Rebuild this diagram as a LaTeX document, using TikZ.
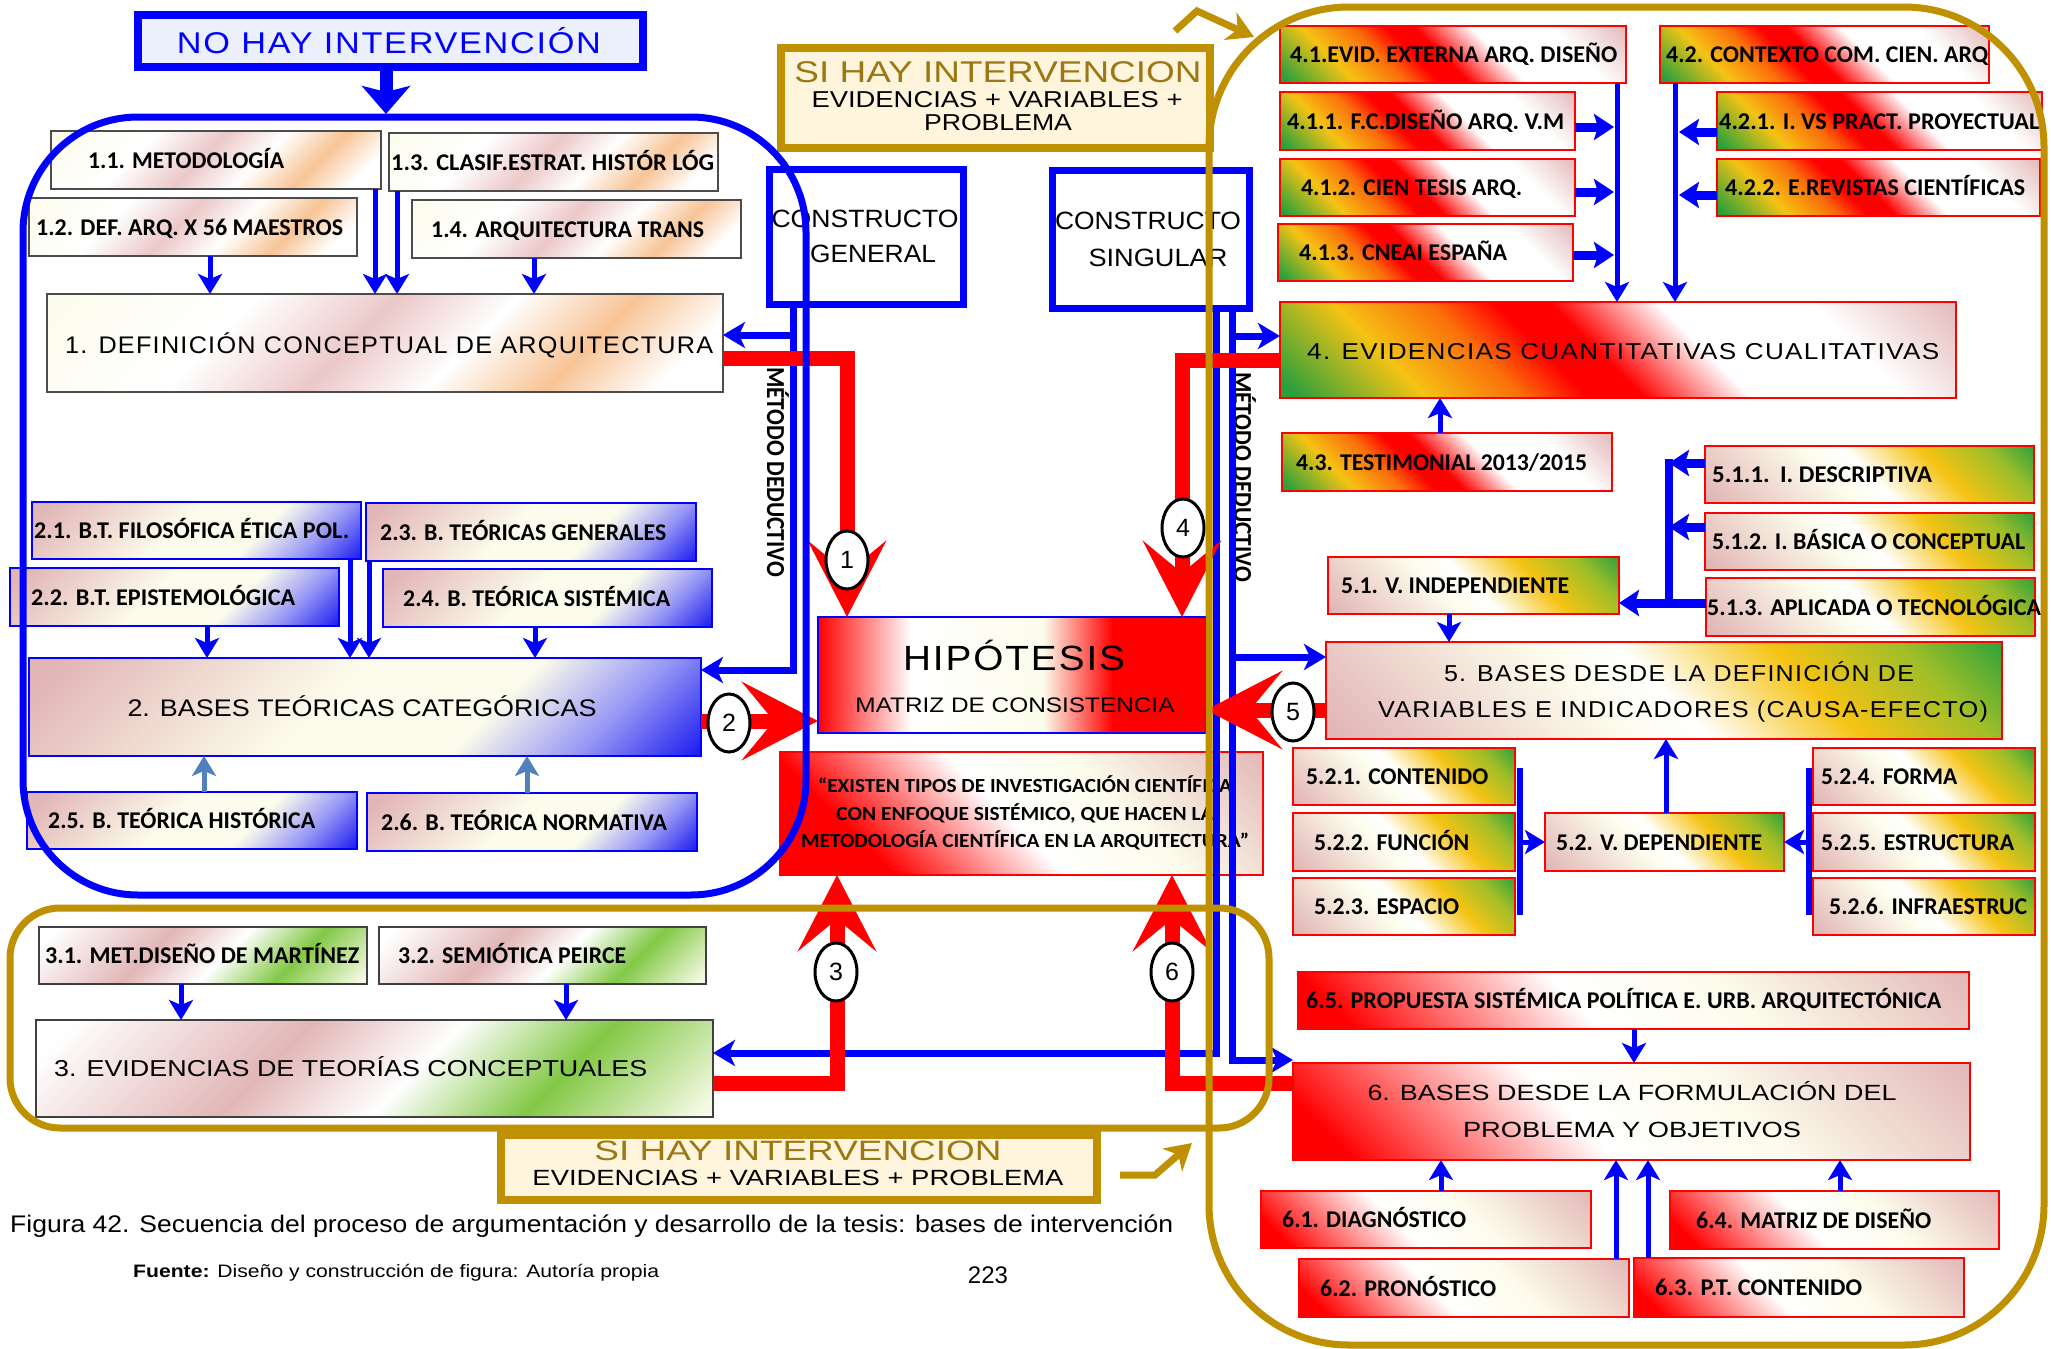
\documentclass[tikz,border=0pt]{standalone}
\usepackage{fontspec}
\usepackage{graphicx}
\setmainfont{Carlito}
\newfontfamily\arialf{Liberation Sans}
\newfontfamily\ltw[LetterSpace=5]{Liberation Sans}
\usetikzlibrary{arrows.meta,shapes.geometric}

\definecolor{bl}{RGB}{0,0,255}
\definecolor{rd}{RGB}{255,0,0}
\definecolor{gold}{RGB}{191,144,0}
\definecolor{goldtxt}{RGB}{155,120,20}
\definecolor{cream}{RGB}{255,244,220}
\definecolor{lav}{RGB}{236,239,252}
\definecolor{steel}{RGB}{79,129,189}
\definecolor{pk}{RGB}{226,182,182}
\definecolor{pkl}{RGB}{236,200,200}
\definecolor{peach}{RGB}{248,196,150}
\definecolor{crm}{RGB}{252,252,236}
\definecolor{bshade}{RGB}{20,20,240}
\definecolor{lbsh}{RGB}{150,150,245}
\definecolor{grn}{RGB}{40,160,60}
\definecolor{lgrn}{RGB}{130,200,70}
\definecolor{ylw}{RGB}{245,195,20}
\definecolor{orn}{RGB}{250,110,10}
\definecolor{ygrn}{RGB}{160,190,40}
\definecolor{lcream}{RGB}{246,250,228}

\pgfdeclarehorizontalshading{shA}{100bp}{color(0bp)=(crm); color(15bp)=(crm); color(34bp)=(white); color(47bp)=(pkl); color(58bp)=(white); color(69bp)=(peach); color(79bp)=(white); color(100bp)=(white)}
\pgfdeclarehorizontalshading{shB}{100bp}{color(0bp)=(pk); color(18bp)=(pk); color(46bp)=(crm); color(62bp)=(crm); color(74bp)=(lbsh); color(86bp)=(bshade); color(100bp)=(bshade)}
\pgfdeclarehorizontalshading{shC}{100bp}{color(0bp)=(white); color(18bp)=(white); color(40bp)=(pk); color(54bp)=(white); color(68bp)=(lgrn); color(84bp)=(lcream); color(100bp)=(lcream)}
\pgfdeclarehorizontalshading{shD}{100bp}{color(0bp)=(grn); color(16bp)=(grn); color(28bp)=(ylw); color(37bp)=(orn); color(43bp)=(rd); color(48bp)=(rd); color(58bp)=(white); color(72bp)=(white); color(86bp)=(pk); color(100bp)=(pk)}
\pgfdeclarehorizontalshading{shE}{100bp}{color(0bp)=(pk); color(16bp)=(pk); color(42bp)=(crm); color(50bp)=(white); color(64bp)=(ylw); color(76bp)=(ygrn); color(86bp)=(grn); color(100bp)=(grn)}
\pgfdeclarehorizontalshading{shF}{100bp}{color(0bp)=(rd); color(20bp)=(rd); color(44bp)=(white); color(60bp)=(crm); color(86bp)=(pk); color(100bp)=(pk)}
\pgfdeclarehorizontalshading{shQ}{100bp}{color(0bp)=(rd); color(28bp)=(rd); color(48bp)=(white); color(62bp)=(crm); color(86bp)=(pk); color(100bp)=(pk)}
\pgfdeclarehorizontalshading{shH}{100bp}{color(0bp)=(rd); color(25bp)=(rd); color(37bp)=(white); color(54bp)=(crm); color(63bp)=(rd); color(100bp)=(rd)}

\newcommand{\fw}[2]{\resizebox{#1}{\height}{#2}}
% style, name, x1, y1, x2, y2, textx, textwidth, text
\newcommand{\bx}[9]{%
  \node[#1, minimum width={(#5-#3)*1pt}, minimum height={(#6-#4)*1pt}] (#2) at (#3,#4) {};
  \node[lbl] (#2t) at ({#7},{(#4+#6)/2+8}) {\fw{#8pt}{#9}};
}

\tikzset{
  box/.style={anchor=north west, outer sep=0pt, inner sep=0pt},
  g1/.style={box, draw=black!70, line width=1.5pt, shading=shA, shading angle=-45},
  g2/.style={box, draw=bl, line width=2pt, shading=shB, shading angle=-45},
  g3/.style={box, draw=black!75, line width=2pt, shading=shC, shading angle=-45},
  g4/.style={box, draw=rd, line width=2.5pt, shading=shD, shading angle=45},
  g5/.style={box, draw=rd, line width=2.5pt, shading=shE, shading angle=45},
  g6/.style={box, draw=rd, line width=2.5pt, shading=shF, shading angle=45},
  lbl/.style={anchor=base west, inner sep=0pt, font=\fontsize{24}{28}\selectfont\bfseries},
  mt/.style={inner sep=0pt},
  barr/.style={draw=bl, line width=5pt, -{Stealth[length=20pt,width=24pt,inset=5pt]}},
  sarr/.style={barr, draw=steel},
  barrL/.style={draw=bl, line width=7pt, -{Stealth[length=22pt,width=26pt,inset=6pt]}},
  tarr/.style={draw=bl, line width=9pt, -{Stealth[length=20pt,width=26pt,inset=4pt]}},
  bline/.style={draw=bl, line width=6pt},
  rarr/.style={draw=rd, line width=15pt, -{Stealth[length=76pt,width=78pt,inset=32pt]}},
  gframe/.style={draw=gold, line width=7pt},
  garr/.style={draw=gold, line width=7pt, -{Stealth[length=26pt,width=30pt,inset=8pt]}},
  circ/.style={ellipse, draw=black, line width=3pt, fill=white, minimum width=42pt, minimum height=58pt, inner sep=0pt, font=\arialf\fontsize{25}{30}\selectfont},
}

\begin{document}
\begin{tikzpicture}[x=1pt,y=-1pt]
\fill[white] (0,0) rectangle (2051,1349);
\useasboundingbox (0,0) rectangle (2051,1349);

% ---------- group 1
\bx{g1}{n11}{51}{131}{381}{189}{88}{196}{1.1. METODOLOGÍA}
\bx{g1}{n13}{389}{133}{718}{191}{391}{323}{1.3. CLASIF.ESTRAT. HISTÓR LÓG}
\bx{g1}{n12}{29}{198}{357}{256}{36}{307}{1.2. DEF. ARQ. X 56 MAESTROS}
\bx{g1}{n14}{412}{200}{741}{258}{431}{273}{1.4. ARQUITECTURA TRANS}
\node[g1, minimum width=676pt, minimum height=98pt] (n1) at (47,294) {};
\node[mt, anchor=base west, font=\ltw\fontsize{24}{30}\selectfont] (n1t) at (65,353) {\fw{648pt}{1. DEFINICIÓN CONCEPTUAL DE ARQUITECTURA}};

% ---------- group 2
\bx{g2}{n21}{32}{502}{361}{559}{34}{315}{2.1. B.T. FILOSÓFICA ÉTICA POL.}
\bx{g2}{n23}{366}{503}{696}{561}{380}{286}{2.3. B. TEÓRICAS GENERALES}
\bx{g2}{n22}{10}{568}{339}{626}{31}{264}{2.2. B.T. EPISTEMOLÓGICA}
\bx{g2}{n24}{383}{569}{712}{627}{403}{267}{2.4. B. TEÓRICA SISTÉMICA}
\bx{g2}{n25}{27}{792}{357}{849}{48}{267}{2.5. B. TEÓRICA HISTÓRICA}
\bx{g2}{n26}{367}{793}{697}{851}{381}{286}{2.6. B. TEÓRICA NORMATIVA}
\node[g2, minimum width=672pt, minimum height=98pt] (n2) at (29,658) {};
\node[mt, anchor=base, font=\arialf\fontsize{24}{30}\selectfont] (n2t) at (362,716) {\fw{469pt}{2. BASES TEÓRICAS CATEGÓRICAS}};

% ---------- group 3
\bx{g3}{n31}{39}{927}{367}{984}{45}{314}{3.1. MET.DISEÑO DE MARTÍNEZ}
\bx{g3}{n32}{379}{927}{706}{984}{398}{228}{3.2. SEMIÓTICA PEIRCE}
\node[g3, minimum width=677pt, minimum height=97pt] (n3) at (36,1020) {};
\node[mt, anchor=base west, font=\arialf\fontsize{23}{30}\selectfont] (n3t) at (54,1076) {\fw{593pt}{3. EVIDENCIAS DE TEORÍAS CONCEPTUALES}};

% ---------- group 4
\bx{g4}{n41}{1280}{26}{1626}{83}{1290}{327}{4.1.EVID. EXTERNA ARQ. DISEÑO}
\bx{g4}{n42}{1660}{26}{1989}{83}{1666}{322}{4.2. CONTEXTO COM. CIEN. ARQ}
\bx{g4}{n411}{1280}{92}{1575}{150}{1287}{277}{4.1.1. F.C.DISEÑO ARQ. V.M}
\bx{g4}{n412}{1280}{159}{1575}{216}{1301}{221}{4.1.2. CIEN TESIS ARQ.}
\bx{g4}{n413}{1278}{224}{1573}{281}{1299}{208}{4.1.3. CNEAI ESPAÑA}
\bx{g4}{n421}{1717}{92}{2042}{150}{1719}{320}{4.2.1. I. VS PRACT. PROYECTUAL}
\bx{g4}{n422}{1717}{159}{2040}{216}{1725}{300}{4.2.2. E.REVISTAS CIENTÍFICAS}
\node[g4, minimum width=676pt, minimum height=96pt] (n4) at (1280,302) {};
\node[mt, anchor=base west, font=\ltw\fontsize{23}{30}\selectfont] (n4t) at (1307,359) {\fw{632pt}{4. EVIDENCIAS CUANTITATIVAS CUALITATIVAS}};
\bx{g4}{n43}{1282}{433}{1612}{491}{1296}{291}{4.3. TESTIMONIAL 2013/2015}

% ---------- group 5
\bx{g5}{n511}{1705}{446}{2034}{503}{1712}{220}{5.1.1.\hspace{10pt}I. DESCRIPTIVA}
\bx{g5}{n512}{1705}{513}{2034}{570}{1712}{313}{5.1.2. I. BÁSICA O CONCEPTUAL}
\bx{g5}{n513}{1706}{578}{2035}{636}{1707}{334}{5.1.3. APLICADA O TECNOLÓGICA}
\bx{g5}{n51}{1328}{557}{1619}{614}{1341}{228}{5.1. V. INDEPENDIENTE}
\node[g5, minimum width=676pt, minimum height=97pt] (n5) at (1326,642) {};
\node[mt, anchor=base, font=\ltw\fontsize{23}{30}\selectfont] (n5a) at (1679,681) {\fw{470pt}{5. BASES DESDE LA DEFINICIÓN DE}};
\node[mt, anchor=base, font=\ltw\fontsize{23}{30}\selectfont] (n5b) at (1683,717) {\fw{610pt}{VARIABLES E INDICADORES (CAUSA-EFECTO)}};
\bx{g5}{n521}{1293}{748}{1515}{805}{1306}{182}{5.2.1. CONTENIDO}
\bx{g5}{n522}{1293}{813}{1515}{871}{1314}{155}{5.2.2. FUNCIÓN}
\bx{g5}{n523}{1293}{878}{1515}{935}{1314}{145}{5.2.3. ESPACIO}
\bx{g5}{n52}{1545}{813}{1784}{871}{1556}{206}{5.2. V. DEPENDIENTE}
\bx{g5}{n524}{1813}{748}{2035}{805}{1821}{136}{5.2.4. FORMA}
\bx{g5}{n525}{1813}{813}{2035}{871}{1821}{193}{5.2.5. ESTRUCTURA}
\bx{g5}{n526}{1813}{878}{2035}{935}{1829}{198}{5.2.6. INFRAESTRUC}

% ---------- group 6
\bx{g6}{n65}{1298}{972}{1969}{1029}{1306}{635}{6.5. PROPUESTA SISTÉMICA POLÍTICA E. URB. ARQUITECTÓNICA}
\node[g6, minimum width=677pt, minimum height=97pt] (n6) at (1293,1063) {};
\node[mt, anchor=base, font=\arialf\fontsize{22}{30}\selectfont] (n6a) at (1632,1100) {\fw{529pt}{6. BASES DESDE LA FORMULACIÓN DEL}};
\node[mt, anchor=base, font=\arialf\fontsize{22}{30}\selectfont] (n6b) at (1632,1137) {\fw{338pt}{PROBLEMA Y OBJETIVOS}};
\bx{g6}{n61}{1261}{1191}{1591}{1248}{1282}{184}{6.1. DIAGNÓSTICO}
\bx{g6}{n64}{1670}{1191}{1999}{1249}{1696}{235}{6.4. MATRIZ DE DISEÑO}
\bx{g6}{n62}{1299}{1259}{1629}{1317}{1320}{176}{6.2. PRONÓSTICO}
\bx{g6}{n63}{1634}{1258}{1964}{1317}{1655}{207}{6.3. P.T. CONTENIDO}

% ---------- centre
\node[box, draw=bl, line width=2.5pt, shading=shH, shading angle=0, minimum width=388pt, minimum height=116pt] (hyp) at (818,617) {};
\node[anchor=base, inner sep=0pt, font=\ltw\fontsize{35}{40}\selectfont] (hypt) at (1014,670) {\fw{222pt}{HIPÓTESIS}};
\node[anchor=base, inner sep=0pt, font=\arialf\fontsize{21}{28}\selectfont] (hypm) at (1015,712) {\fw{319pt}{MATRIZ DE CONSISTENCIA}};

\node[box, draw=rd, line width=2pt, shading=shQ, shading angle=45, minimum width=483pt, minimum height=123pt] (quote) at (780,752) {};
\node[anchor=base, inner sep=0pt, font=\fontsize{20}{24}\selectfont\bfseries] (q1) at (1025,792) {\fw{414pt}{“EXISTEN TIPOS DE INVESTIGACIÓN CIENTÍFICA}};
\node[anchor=base, inner sep=0pt, font=\fontsize{20}{24}\selectfont\bfseries] (q2) at (1025,820) {\fw{377pt}{CON ENFOQUE SISTÉMICO, QUE HACEN LA}};
\node[anchor=base, inner sep=0pt, font=\fontsize{20}{24}\selectfont\bfseries] (q3) at (1025,847) {\fw{448pt}{METODOLOGÍA CIENTÍFICA EN LA ARQUITECTURA”}};

% constructo boxes
\node[box, draw=bl, line width=7pt, minimum width=194pt, minimum height=135pt] (cg) at (769.5,169.5) {};
\node[anchor=base, inner sep=0pt, font=\arialf\fontsize{25}{30}\selectfont] (cg1) at (865,227) {\fw{187pt}{CONSTRUCTO}};
\node[anchor=base, inner sep=0pt, font=\arialf\fontsize{25}{30}\selectfont] (cg2) at (873,262) {\fw{126pt}{GENERAL}};
\node[box, draw=bl, line width=7pt, minimum width=197pt, minimum height=138pt] (cs) at (1052.5,170.5) {};
\node[anchor=base, inner sep=0pt, font=\arialf\fontsize{25}{30}\selectfont] (cs1) at (1148,229) {\fw{186pt}{CONSTRUCTO}};
\node[anchor=base, inner sep=0pt, font=\arialf\fontsize{25}{30}\selectfont] (cs2) at (1158,266) {\fw{139pt}{SINGULAR}};

% titles
\node[box, draw=bl, line width=8pt, fill=lav, minimum width=505pt, minimum height=52pt] (nohay) at (138,15) {};
\node[anchor=base, inner sep=0pt, text=bl, font=\ltw\fontsize{30}{36}\selectfont] (nohayt) at (389,53) {\fw{424pt}{NO HAY INTERVENCIÓN}};
\node[box, draw=gold, line width=8pt, fill=cream, minimum width=429pt, minimum height=100pt] (sitop) at (781,48) {};
\node[anchor=base, inner sep=0pt, text=goldtxt, font=\arialf\fontsize{30}{36}\selectfont] (sit1) at (998,82) {\fw{407pt}{SI HAY INTERVENCION}};
\node[anchor=base, inner sep=0pt, font=\arialf\fontsize{23}{30}\selectfont] (sit2) at (997,107) {\fw{371pt}{EVIDENCIAS + VARIABLES +}};
\node[anchor=base, inner sep=0pt, font=\arialf\fontsize{23}{30}\selectfont] (sit3) at (998,130) {\fw{148pt}{PROBLEMA}};
\node[box, draw=gold, line width=8pt, fill=cream, minimum width=596pt, minimum height=65pt] (sibot) at (501,1135) {};
\node[anchor=base, inner sep=0pt, text=goldtxt, font=\arialf\fontsize{28}{34}\selectfont] (sib1) at (798,1160) {\fw{407pt}{SI HAY INTERVENCION}};
\node[anchor=base, inner sep=0pt, font=\arialf\fontsize{22}{30}\selectfont] (sib2) at (798,1185) {\fw{531pt}{EVIDENCIAS + VARIABLES + PROBLEMA}};

% método deductivo
\node[rotate=-90, inner sep=0pt, font=\bfseries\fontsize{26}{28}\selectfont] (md1) at (778,472) {\fw{210pt}{MÉTODO DEDUCTIVO}};
\node[rotate=-90, inner sep=0pt, font=\bfseries\fontsize{26}{28}\selectfont] (md2) at (1245,477) {\fw{210pt}{MÉTODO DEDUCTIVO}};

% caption
\node[anchor=base west, inner sep=0pt, font=\arialf\fontsize{24}{28}\selectfont] (cap) at (10,1232) {\fw{1163pt}{Figura 42. Secuencia del proceso de argumentación y desarrollo de la tesis: bases de intervención}};
\node[anchor=base west, inner sep=0pt, font=\arialf\fontsize{18}{22}\selectfont] (fte) at (133,1277) {\fw{526pt}{\textbf{Fuente:} Diseño y construcción de figura: Autoría propia}};
\node[anchor=base, inner sep=0pt, font=\arialf\fontsize{24}{28}\selectfont] (pg) at (988,1283) {223};

% ---------- blue connectors
\coordinate (ftop) at (386,114);
\draw[draw=bl, line width=13pt, -{Stealth[length=28pt,width=48pt,inset=6pt]}] (nohay.south -| ftop) -- (ftop);

\draw[barr] (n12.south -| 210,0) -- (n1.north -| 210,0);
\draw[barr] (n11.south -| 375,0) -- (n1.north -| 375,0);
\draw[barr] (n13.south -| 397,0) -- (n1.north -| 397,0);
\draw[barr] (n14.south -| 534,0) -- (n1.north -| 534,0);

\draw[barr] (n22.south -| 207,0) -- (n2.north -| 207,0);
\draw[barr] (n21.south -| 350,0) -- (n2.north -| 350,0);
\draw[barr] (n23.south -| 369,0) -- (n2.north -| 369,0);
\draw[barr] (n24.south -| 535,0) -- (n2.north -| 535,0);
\draw[sarr] (n25.north -| 204,0) -- (n2.south -| 204,0);
\draw[sarr] (n26.north -| 527,0) -- (n2.south -| 527,0);

\draw[barr] (n31.south -| 181,0) -- (n3.north -| 181,0);
\draw[barr] (n32.south -| 566,0) -- (n3.north -| 566,0);

\draw[barr] (n41.south -| 1617,0) -- (n4.north -| 1617,0);
\draw[barr] (n42.south -| 1675,0) -- (n4.north -| 1675,0);
\coordinate (v41) at (1614,0);
\coordinate (v42) at (1679,0);
\draw[tarr] (n411.east |- 0,127) -- (v41 |- 0,127);
\draw[tarr] (n412.east |- 0,192) -- (v41 |- 0,192);
\draw[tarr] (n413.east |- 0,255) -- (v41 |- 0,255);
\draw[tarr] (n421.west |- 0,132) -- (v42 |- 0,132);
\draw[tarr] (n422.west |- 0,195) -- (v42 |- 0,195);
\draw[barr] (n43.north -| 1440,0) -- (n4.south -| 1440,0);

\coordinate (v51) at (1669,0);
\draw[draw=bl, line width=8pt] (v51 |- 0,459) -- (v51 |- 0,607);
\draw[tarr] (n511.west |- 0,463) -- (v51 |- 0,463);
\draw[tarr] (n512.west |- 0,527) -- (v51 |- 0,527);
\draw[tarr] (n513.west |- 0,603) -- (n51.east |- 0,603);
\draw[barr] (n51.south -| 1449,0) -- (n5.north -| 1449,0);
\draw[barr] (n52.north -| 1666,0) -- (n5.south -| 1666,0);
\coordinate (v52) at (1520,0);
\coordinate (v53) at (1809,0);
\draw[bline] (v52 |- 0,768) -- (v52 |- 0,915);
\draw[bline] (v53 |- 0,768) -- (v53 |- 0,915);
\draw[barr] (v52 |- n52.west) -- (n52.west);
\draw[barr] (v53 |- n52.east) -- (n52.east);

\draw[barr] (n65.south -| 1634,0) -- (n6.north -| 1634,0);
\draw[barr] (n61.north -| 1441,0) -- (n6.south -| 1441,0);
\draw[barr] (n62.north -| 1616,0) -- (n6.south -| 1616,0);
\draw[barr] (n63.north -| 1648,0) -- (n6.south -| 1648,0);
\draw[barr] (n64.north -| 1840,0) -- (n6.south -| 1840,0);

% constructo lines
\coordinate (vg) at (793,0);
\coordinate (va) at (1216,0);
\coordinate (vb) at (1232,0);
\draw[barrL] (cg.south -| vg) |- (n2.east |- 0,670);
\draw[barrL] (vg |- 0,335) -- (n1.east |- 0,335);
\draw[barrL] (cs.south -| va) |- (n3.east |- 0,1053);
\draw[barrL] (cs.south -| vb) |- (n6.west |- 0,1060);
\draw[barrL] (vb |- 0,336) -- (n4.west |- 0,336);
\draw[barrL] (vb |- 0,657) -- (n5.west |- 0,657);

% ---------- red arrows
\draw[rarr] (n1.east |- 0,358) -| (hyp.north -| 847,0);
\draw[rarr] (n4.west |- 0,360) -| (hyp.north -| 1182,0);
\draw[rarr] (n2.east |- 0,721) -- (hyp.west |- 0,721);
\draw[rarr] (n5.west |- 0,710) -- (hyp.east |- 0,710);
\draw[rarr] (n3.east |- 0,1083) -| (quote.south -| 837,0);
\draw[rarr] (n6.west |- 0,1083) -| (quote.south -| 1172,0);

% ---------- frames
\draw[draw=bl, line width=7pt, rounded corners=115pt] (23,117) rectangle (806,895);
\draw[gframe, rounded corners=50pt] (10,908) rectangle (1269,1128);
\draw[gframe, rounded corners=140pt] (1209,7) rectangle (2044,1345);

% ---------- circles
\node[circ] (c1) at (847,560) {1};
\node[circ] (c2) at (729,723) {2};
\node[circ] (c3) at (836,972) {3};
\node[circ] (c4) at (1183,528) {4};
\node[circ] (c5) at (1293,712) {5};
\node[circ] (c6) at (1172,972) {6};

% ---------- gold arrows
\coordinate (ga1) at (1175,31);
\coordinate (ga2) at (1197,11);
\coordinate (ga3) at (1254,37);
\draw[garr] (ga1) -- (ga2) -- (ga3);
\coordinate (gb1) at (1120,1175);
\coordinate (gb2) at (1155,1175);
\coordinate (gb3) at (1192,1143);
\draw[garr] (gb1) -- (gb2) -- (gb3);
\end{tikzpicture}
\end{document}
